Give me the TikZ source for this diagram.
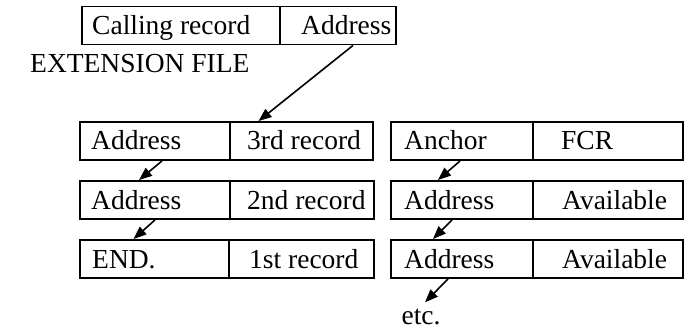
\documentclass[tikz,border=0pt]{standalone}
\usepackage{fontspec}
\setmainfont{Liberation Serif}
\usetikzlibrary{arrows.meta}
\tikzset{cell/.style={draw, line width=1.9pt, minimum height=38pt, inner sep=0pt}}
\tikzset{lbl/.style={anchor=base west, inner sep=0pt, font=\fontsize{27.5}{31}\selectfont}}
\tikzset{link/.style={line width=1.6pt, -{Triangle[length=13pt,width=10pt]}}}
\begin{document}
\begin{tikzpicture}[x=1pt, y=-1pt]
      \useasboundingbox (0,0) rectangle (690,331);
      % calling record
      \node [cell, minimum width=198pt] (calll) at (181,25.5) {};
      \node [cell, minimum width=116pt] (callr) at (338,25.5) {};
      \node [lbl] at (92,35) {Calling record};
      \node [lbl] at (301,35) {Address};
      \node [lbl] at (30,73) {EXTENSION FILE};
      % extension file records
      \node [cell, minimum width=150pt] (e3l) at (155,141) {};
      \node [cell, minimum width=143pt] (e3r) at (301.5,141) {};
      \node [cell, minimum width=150pt] (e2l) at (155,200) {};
      \node [cell, minimum width=144pt] (e2r) at (302,200) {};
      \node [cell, minimum width=149pt] (e1l) at (154.5,259) {};
      \node [cell, minimum width=145pt] (e1r) at (301.5,259) {};
      \node [lbl] at (91,150) {Address};
      \node [lbl] at (247,150) {3rd record};
      \node [lbl] at (91,209) {Address};
      \node [lbl] at (247,209) {2nd record};
      \node [lbl] at (92,268) {END.};
      \node [lbl] at (249,268) {1st record};
      % available records
      \node [cell, minimum width=142pt] (fcrl) at (462,141) {};
      \node [cell, minimum width=150pt] (fcrr) at (608,141) {};
      \node [cell, minimum width=142pt] (av1l) at (462,200) {};
      \node [cell, minimum width=150pt] (av1r) at (608,200) {};
      \node [cell, minimum width=142pt] (av2l) at (462,259) {};
      \node [cell, minimum width=150pt] (av2r) at (608,259) {};
      \node [lbl] at (404,150) {Anchor};
      \node [lbl] at (561,150) {FCR};
      \node [lbl] at (404,209) {Address};
      \node [lbl] at (562,209) {Available};
      \node [lbl] at (404,268) {Address};
      \node [lbl] at (562,268) {Available};
      \node [lbl, anchor=base] (etc) at (421,324) {etc.};
      % pointers
      \draw [link] ([xshift=15pt]callr.south) -- ([xshift=-43pt]e3r.north);
      \draw [link] ([xshift=7pt]e3l.south) -- ([xshift=-16pt]e2l.north);
      \draw [link] ([xshift=0pt]e2l.south) -- ([xshift=-21pt]e1l.north);
      \draw [link] ([xshift=-2pt]fcrl.south) -- ([xshift=-24pt]av1l.north);
      \draw [link] ([xshift=-10pt]av1l.south) -- ([xshift=-29pt]av2l.north);
      \draw [link] ([xshift=-14pt]av2l.south) -- ([xshift=4pt,yshift=6pt]etc.north);
    \end{tikzpicture}
\end{document}
